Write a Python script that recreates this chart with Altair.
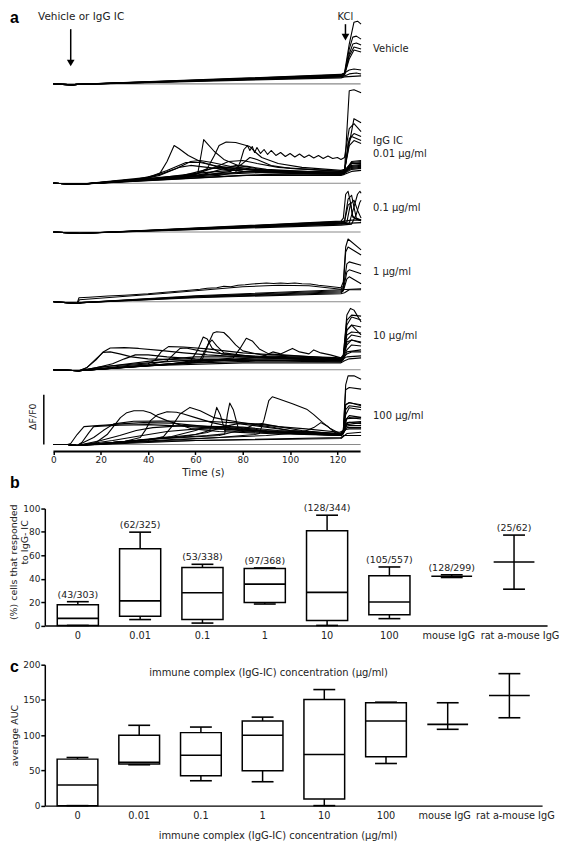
import altair as alt
import pandas as pd

# ---------------- panel a : calcium traces (time s, dF/F0 in arbitrary units) -------------
TIME_DOMAIN = [-3.65, 130]
TIME_START, TIME_END = 0, 129.8
TIME_TICKS = [0, 20, 40, 60, 80, 100, 120]

VEHICLE = [
    [(0,0),(8,-1),(10,-0.5),(121.5,9),(123,11),(125,40),(127,62),(128.5,63),(130,60)],
    [(0,0),(8,-1),(10,-0.5),(121.5,8.5),(123,10),(125,35),(126.5,47),(128,48),(130,45)],
    [(0,0),(8,-1),(10,-0.5),(121.5,8),(123,10),(125,30),(126.5,40),(128,41),(130,39)],
    [(0,0),(8,-1),(10,-0.5),(121.5,7.5),(123,9),(125,28),(127,37),(130,35)],
    [(0,0),(8,-1),(10,-0.5),(121.5,7),(123,9),(125,25),(127,34),(130,32)],
    [(0,0),(8,-1),(10,-0.5),(121.5,9.5),(123,11),(125,14),(127,15),(130,14)],
    [(0,0),(8,-1),(10,-0.5),(121.5,7),(123,8),(125,10),(128,11),(130,10)],
    [(0,0),(8,-1),(10,-0.5),(121.5,6),(123,7),(130,8)],
]

IC_001 = [
    [(0,0),(11,-1),(30,2),(40,5),(45,10),(48,22),(51,38),(53,35),(57,28),(62,22),(70,16),(80,12),(100,10),(121.5,9),(123,10),(124.5,40),(126,47),(130,43)],
    [(0,0),(11,-1),(40,4),(55,7),(61,10),(62.5,30),(63.5,44),(65,40),(68,32),(72,24),(78,18),(90,13),(121.5,11),(123,12),(125,93),(127,94),(130,91)],
    [(0,0),(11,-1),(45,5),(60,9),(65,15),(68,28),(70,38),(73,41.5),(77,41),(80,39),(83,37),(85,32),(88,26),(95,20),(105,16),(121.5,13),(123,14),(125,40),(127,65),(130,61)],
    [(0,0),(11,-1),(50,5),(70,8),(77,11),(79,22),(80.5,34),(82,38),(83,33),(84,37),(85,31),(86,36),(87.5,30),(89,34),(90.5,29),(92,33),(94,28),(96,31),(98,27),(100,30),(102,26.5),(104,29.5),(106,26),(108,28.5),(110,25.5),(112,28),(114,25),(116,27.5),(118,25),(120,26),(121.5,24),(123,26),(125,55),(127,60),(130,52)],
    [(0,0),(11,-1),(35,3),(45,8),(52,15),(58,22),(62,23),(67,21),(75,17),(85,14),(100,12),(121.5,11),(123,12),(125,45),(127,50),(130,47)],
    [(0,0),(11,-1),(45,4),(60,9),(68,16),(74,22),(80,23),(86,20),(95,16),(121.5,12),(123,13),(125,38),(127,43),(130,40)],
    [(0,0),(11,-1),(40,6),(48,13),(56,21),(62,21),(70,17),(85,13),(121.5,10),(123,11),(126,20),(130,20)],
    [(0,0),(11,-1),(55,6),(65,10),(72,15),(77,18),(82,17),(90,14),(121.5,10),(123,11),(126,18),(130,19)],
    [(0,0),(11,-1),(40,4),(60,10),(80,14),(100,12),(121.5,10),(123,11),(126,22),(130,23)],
    [(0,0),(11,-1),(50,5),(70,10),(90,12),(121.5,11),(123,12),(126,16),(130,17)],
    [(0,0),(11,-1),(30,3),(60,8),(90,11),(121.5,9),(123,10),(126,14),(130,15)],
    [(0,0),(11,-1),(40,3),(80,8),(121.5,8),(123,9),(126,12),(130,13)],
    [(0,0),(11,-1),(50,4),(90,9),(121.5,9.5),(123,10),(126,20),(130,21)],
    [(0,0),(11,-1),(60,7),(75,12),(80,20),(83,26),(86,24),(92,18),(100,15),(121.5,12),(123,13),(126,21),(130,22)],
    [(0,0),(11,-1),(55,8),(65,14),(70,16),(76,15),(90,12),(121.5,10),(123,11),(126,15),(130,16)],
    [(0,0),(11,-1),(35,4),(45,9),(53,16),(58,18),(65,16),(80,12),(121.5,10),(123,11),(126,17),(130,18)],
]

IC_01 = [
    [(0,0),(11,-1.3),(15,-1),(121.5,11),(122.5,14),(123.5,38),(124.5,41),(125.5,30),(126.5,16),(128,13),(130,12)],
    [(0,0),(11,-1.3),(15,-1),(121.5,10),(123,11),(124.5,33),(126,37),(127,25),(128,14),(130,12)],
    [(0,0),(11,-1.3),(15,-1),(121.5,9),(124,10),(125.5,28),(127,32),(128.5,22),(130,14)],
    [(0,0),(11,-1.3),(15,-1),(121.5,8),(125,9),(127,25),(128.5,38),(129.5,41),(130,39)],
    [(0,0),(11,-1.3),(15,-1),(121.5,7),(126,8),(128,18),(129.5,30),(130,32)],
    [(0,0),(11,-1.3),(15,-1),(121.5,10.5),(123,11),(126,12),(130,12)],
    [(0,0),(11,-1.3),(15,-1),(121.5,8.5),(130,9.5)],
    [(0,0),(11,-1.3),(15,-1),(121.5,9.5),(123,10.5),(124.5,27),(125.5,29),(126.5,15),(130,11)],
]

IC_1 = [
    [(0,0),(10,-1.7),(10.8,4),(15,4.5),(23,5.7),(30,6.5),(40,8),(46,9.3),(55,11),(62,12.5),(65,13.5),(69,14),(72,15.5),(75,15),(78,16.5),(81,17),(84,17.8),(87,18.3),(90,18.8),(93,18.2),(96,18.8),(99,18.3),(102,18.8),(105,18),(108.5,17.7),(112,16.5),(116,15.5),(121.5,14),(122.5,20),(123.5,55),(124.5,63),(130,52)],
    [(0,0),(10,-1.7),(11,2),(25,4.5),(45,8),(65,12),(80,15),(95,16.5),(108,16),(121.5,12.5),(122.5,16),(123.5,50),(124.5,55),(130,47)],
    [(0,0),(10,-1.7),(12,-1),(60,5.5),(121.5,11),(122.5,14),(124,38),(125,40),(130,36.7)],
    [(0,0),(10,-1.7),(12,-1),(60,5),(121.5,10),(122.5,12),(124,30),(125,32),(130,28)],
    [(0,0),(10,-1.7),(12,-1),(60,4.5),(121.5,9),(122.5,11),(124,23),(125,25),(130,18)],
    [(0,0),(10,-1.7),(12,-1),(60,6),(121.5,12),(130,13)],
    [(0,0),(10,-1.7),(12,-1),(60,4),(121.5,8),(123,9),(125,12),(130,12)],
]

IC_10 = [
    [(0,0),(10.8,-1),(14,2),(18,10),(21,18),(24,22),(30,22.3),(36,21.5),(45,19.5),(55,17),(65,15),(80,13),(100,11),(121.5,10),(122.5,14),(124,55),(125.5,61.7),(127,60),(130,48)],
    [(0,0),(10.8,-1),(14,2),(18,11),(21,17.5),(24,18),(28,16),(33,13),(40,11),(60,9.5),(121.5,9),(122.5,12),(124,45),(126,53),(130,50)],
    [(0,0),(10.8,-1),(18,2),(25,6),(30,11),(34.6,15),(40,15),(48,13),(60,11),(90,10),(121.5,9),(122.5,11),(124,30),(126,35),(130,33)],
    [(0,0),(10.8,-1),(30,4),(40,6),(43,10),(45.5,18),(48.6,23.3),(55,23),(65,21),(80,17),(100,14),(121.5,12),(122.5,15),(124,50),(126,55),(130,54)],
    [(0,0),(10.8,-1),(40,5),(48,9),(51,16),(53.5,21.5),(56,22),(62,19),(75,15),(121.5,10),(122.5,12),(124,25),(126,30),(130,28)],
    [(0,0),(10.8,-1),(50,6),(58,9),(61,20),(63.3,33),(65,31),(67,22),(71,16),(90,12),(121.5,10),(122.5,12),(124,40),(126,45),(130,43)],
    [(0,0),(10.8,-1),(55,7),(62,10),(65,24),(67.5,37),(69,38.3),(72,37.5),(74,33),(77,25),(80,19),(90,14),(121.5,11),(122.5,13),(124,20),(126,25),(130,24)],
    [(0,0),(10.8,-1),(58,7),(63,11),(65.5,26),(67,30),(69,24),(72,17),(85,13),(121.5,10),(122.5,12),(124,16),(126,18),(130,18)],
    [(0,0),(10.8,-1),(65,9),(76,12),(79,22),(81.5,31.7),(84,29),(87,21),(91,16),(121.5,11),(122.5,13),(124,40),(126,45),(130,35)],
    [(0,0),(10.8,-1),(70,9),(88,13),(92.7,18),(96,16),(101,21.5),(104,18),(108,16),(110,20),(113,17),(117,15),(121.5,12),(122.5,14),(124,28),(126,30),(130,27)],
    [(0,0),(10.8,-1),(20,3),(40,7),(60,10),(80,11),(100,11),(121.5,9),(122.5,11),(124,13),(130,14)],
    [(0,0),(10.8,-1),(30,3),(60,7),(90,9),(121.5,8),(122.5,10),(124,18),(130,20)],
    [(0,0),(10.8,-1),(40,4),(80,7),(121.5,7),(123,9),(125,11),(130,12)],
    [(0,0),(10.8,-1),(25,4),(45,10),(60,13),(75,13),(100,12),(121.5,10.5),(122.5,13),(124,35),(126,38),(130,37)],
]

IC_100 = [
    [(0,0),(6,0),(10,-1),(40,3),(70,7),(85,10),(87,11),(89,25),(91,44),(92.5,48),(95,46),(101,41),(107,35.5),(110,30),(113.7,22.3),(117,16),(121,11),(122.5,13),(123.5,40),(125,42),(130,40)],
    [(0,0),(6,0),(10,-1),(18,2),(22.7,10),(25,17),(28.3,27),(31,32),(34,34),(38,34),(41,32),(44,28),(48,24),(53,20),(58,16),(70,13),(90,11),(121.5,9),(122.5,12),(123.5,30),(125,37),(130,35)],
    [(0,0),(6,0),(10,-1),(30,3),(36.7,7),(39,15),(41,24),(44,30),(48,33),(52,32.5),(55,30.7),(60,27),(67,22),(75,18),(90,14),(121.5,11),(122.5,14),(123.5,55),(125,57.3),(130,55.7)],
    [(0,0),(6,0),(10,-1),(40,4),(46.5,8),(50,18),(53.5,30.7),(57.7,37.3),(62,34),(67.5,27.3),(72,25),(78.7,22.3),(85,20),(92.7,17.3),(100,14),(121.5,11),(122.5,14),(123.5,60),(124.5,69),(127,69),(130,65.7)],
    [(0,0),(6,0),(10,-1),(40,5),(60,10),(66,14),(68,28),(69,37.3),(70.5,30),(72.4,14),(80,13),(100,11),(121.5,9),(122.5,11),(123.5,25),(125,29),(130,27.3)],
    [(0,0),(6,0),(10,-1),(45,6),(65,9),(72.4,10.7),(73.5,30),(74.5,41.7),(76,35),(78,17.3),(81,15),(90,13),(121.5,10),(122.5,12),(123.5,35),(125,39),(130,37.3)],
    [(0,0),(6,0),(7.3,1),(10,10),(12.9,18),(18.5,19),(22,19.5),(30,21),(38,22),(50,21.5),(65,18),(80,15),(100,12),(121.5,10),(122.5,12),(123.5,20),(125,22.3),(130,21)],
    [(0,0),(6,0),(10,-1),(17,7),(21,14),(25.5,20.7),(33.9,23.3),(45,23.5),(55,23.3),(64.7,23.3),(75,22),(85.7,20.7),(95,18),(106.7,15.7),(121,12.3),(122.5,14),(123.5,40),(125,42.3),(130,39)],
    [(0,0),(6,0),(10,-1),(12,2),(15,12),(17,18),(20,18.5),(28,19.5),(40,20),(55,18.5),(70,16),(90,13),(121.5,10),(122.5,12),(123.5,25),(125,27),(130,25.7)],
    [(0,0),(6,0),(10,-1),(20,4),(28,9),(35,14),(42,17),(55,19),(70,18),(80,17.5),(95,14),(121.5,10),(122.5,12),(123.5,18),(125,19),(130,19)],
    [(0,0),(6,0),(10,-1),(50,5),(90,9),(105,12),(110,17),(113,22),(116,18),(119,12),(121.5,10),(122.5,12),(123.5,15),(125,15.7),(130,15.7)],
    [(0,0),(6,0),(10,-1),(30,3),(50,8),(60,14),(64,17),(70,18),(78,16),(90,13),(121.5,9),(122.5,11),(124,20),(130,22)],
    [(0,0),(6,0),(10,-1),(40,5),(70,9),(80,15),(85,20),(88,21),(95,18),(105,14),(121.5,10),(122.5,12),(124,26),(130,27)],
    [(0,0),(6,0),(10,-1),(60,4),(121.5,6),(122.5,8),(124,11),(130,12.3)],
    [(0,0),(6,0),(10,-1),(40,3),(121.5,7),(122.5,9),(124,9),(130,9)],
    [(0,0),(6,0),(10,-1),(25,4),(35,8),(48,13),(62,16),(75,15),(90,12),(121.5,9),(122.5,11),(124,22),(130,23)],
    [(0,0),(6,0),(10,-1),(55,8),(65,12),(72,18),(78,21),(85,19),(100,14),(121.5,10),(122.5,12),(124,17),(130,17)],
]

ROW_KEYS = ["veh", "c001", "c01", "c1", "c10", "c100"]
ROW_LABELS = ["Vehicle", "IgG IC\n0.01 µg/ml", "0.1 µg/ml", "1 µg/ml", "10 µg/ml", "100 µg/ml"]
ROW_TRACES = [VEHICLE, IC_001, IC_01, IC_1, IC_10, IC_100]

ARROW_TIMES = [7.3, 123.4]          # application of vehicle / IgG IC, and of KCl
ARROW_TEXT = ["Vehicle or IgG IC", "KCl"]
SCALE_BAR = [0, 50]                 # dF/F0 scale bar (a.u.)

# ---------------- panels b and c : box plots -------------
CATS = ["0", "0.01", "0.1", "1", "10", "100", "mouse IgG", "rat a-mouse IgG"]

B_LOW  = [0,    5,    2,    18.3, 0,    5.8,  41.0, 31.0]
B_Q1   = [0,    7.8,  5,    19.7, 4.1,  9.2,  None, None]
B_MED  = [6,    21,   28,   35.3, 28.3, 20,   42,   54.3]
B_Q3   = [17.7, 65.7, 49.5, 48.7, 81,   42.4, None, None]
B_HIGH = [20.3, 79.8, 52.3, 49.2, 94.3, 50,   43.3, 77.3]
B_N = ["(43/303)", "(62/325)", "(53/338)", "(97/368)", "(128/344)", "(105/557)", "(128/299)", "(25/62)"]
B_YTITLE = ["(%) cells that responded", "to IgG- IC"]

C_LOW  = [0,    58,   35.3,  33.9,  0,     59.8,  108.3, 124.7]
C_Q1   = [0,    59,   42.4,  49.4,  9.4,   69.2,  None,  None]
C_MED  = [29.2, 61.5, 71.6,  99.8,  72.5,  120,   115.3, 156.2]
C_Q3   = [66,   99.8, 103.6, 120,   150.6, 146,   None,  None]
C_HIGH = [68.3, 114,  111.5, 125.6, 164.7, 146.8, 146,   187.3]
C_XTITLE = "immune complex (IgG-IC) concentration (µg/ml)"

FONT = "DejaVu Sans"
LETTER_X = -35

# ---------------- build panel a -------------
recs = []
for key, traces in zip(ROW_KEYS, ROW_TRACES):
    for j, tr in enumerate(traces):
        for i, (t, h) in enumerate(tr):
            recs.append({"group": key, "trace": f"{key}_{j}", "i": i, "t": t, "h": h})
trace_df = pd.DataFrame(recs)

ROW_H = [64, 100, 49, 70, 68.5, 74.6]
ROW_LABEL_Y = [28.7, 57, 25, 40, 35, 45.6]
A_WIDTH = 318

base_df = pd.DataFrame({"t": [TIME_START], "t2": [TIME_END], "h": [0]})


def row_chart(idx):
    key, H = ROW_KEYS[idx], ROW_H[idx]
    last = idx == len(ROW_KEYS) - 1
    if last:
        xaxis = alt.Axis(values=TIME_TICKS, offset=7, domain=False, tickSize=3, tickWidth=1.5,
                         tickColor="black", labelFontSize=9, labelPadding=1, title="Time (s)",
                         titleFontSize=10.5, titleFontWeight="normal", titlePadding=3, grid=False,
                         labelFont=FONT, titleFont=FONT, labelColor="#222", titleColor="#222")
    else:
        xaxis = None
    xs = alt.Scale(domain=TIME_DOMAIN, nice=False, zero=False)
    ys = alt.Scale(domain=[0, H], nice=False, zero=False)
    X = alt.X("t:Q", scale=xs, axis=xaxis)
    Y = alt.Y("h:Q", scale=ys, axis=None)

    baseline = alt.Chart(base_df).mark_rule(color="#8a8a8a", strokeWidth=1.1).encode(x=X, x2="t2:Q", y=Y)
    lines = alt.Chart(trace_df).transform_filter(alt.datum.group == key).mark_line(
        color="black", strokeWidth=1.1, strokeJoin="round", clip=False
    ).encode(x=X, y=Y, detail="trace:N", order="i:Q")
    lab = alt.Chart(pd.DataFrame({"label": [ROW_LABELS[idx]]})).mark_text(
        align="left", baseline="middle", fontSize=10, font=FONT, color="#222", lineBreak="\n", lineHeight=14
    ).encode(x=alt.value(A_WIDTH + 12), y=alt.value(ROW_LABEL_Y[idx]), text="label:N")
    layers = [baseline, lines, lab]

    if idx == 0:
        arr = pd.DataFrame({"t": ARROW_TIMES, "txt": ARROW_TEXT})
        a1 = arr.iloc[[0]]
        a2 = arr.iloc[[1]]
        layers += [
            alt.Chart(a1).mark_rule(color="black", strokeWidth=1.5).encode(x=X, y=alt.value(9), y2=alt.value(41)),
            alt.Chart(a1).mark_point(shape="triangle-down", filled=True, color="black", size=60, opacity=1).encode(x=X, y=alt.value(43)),
            alt.Chart(a1).mark_text(fontSize=10.5, font=FONT, color="#222", dx=10.5, baseline="top").encode(x=X, y=alt.value(-8), text="txt:N"),
            alt.Chart(a2).mark_rule(color="black", strokeWidth=1.5).encode(x=X, y=alt.value(4), y2=alt.value(15)),
            alt.Chart(a2).mark_point(shape="triangle-down", filled=True, color="black", size=60, opacity=1).encode(x=X, y=alt.value(17)),
            alt.Chart(a2).mark_text(fontSize=10, font=FONT, color="#222", baseline="top").encode(x=X, y=alt.value(-8), text="txt:N"),
            alt.Chart(pd.DataFrame({"p": ["a"]})).mark_text(
                fontSize=16, font="Liberation Sans", fontWeight="bold", align="left", baseline="top"
            ).encode(x=alt.value(LETTER_X), y=alt.value(-10), text="p:N"),
        ]
    if last:
        layers += [
            alt.Chart(base_df).mark_rule(color="black", strokeWidth=2).encode(x=X, x2="t2:Q", y=alt.value(H + 7)),
            alt.Chart(pd.DataFrame({"h": [SCALE_BAR[0]], "h2": [SCALE_BAR[1]]})).mark_rule(
                color="black", strokeWidth=1.5).encode(x=alt.value(-1), y=Y, y2="h2:Q"),
            alt.Chart(pd.DataFrame({"lab": ["ΔF/F0"]})).mark_text(
                angle=270, fontSize=9.5, font=FONT, color="#222", baseline="middle"
            ).encode(x=alt.value(-12), y=alt.value(H - 28), text="lab:N"),
        ]
    return alt.layer(*layers).properties(width=A_WIDTH, height=H)


# ---------------- panels b, c -------------
LABEL_OFFSET_EXPR = "datum.label == 'rat a-mouse IgG' ? 6 : (datum.label == 'mouse IgG' ? -3 : 0)"


def box_panel(low, q1, med, q3, high, width, height, ydom, yvals, letter, letter_y,
              counts=None, ytitle=None, ytitle_lines=None, xtitle=None, top_text=None):
    df = pd.DataFrame({"cat": CATS, "low": low, "q1": q1, "med": med, "q3": q3, "high": high})
    if counts is not None:
        df["n"] = counts
    xs = alt.Scale(paddingInner=0.34, paddingOuter=0.2)
    xkw = dict(labelAngle=0, ticks=False, labelPadding=5, domainWidth=1.5, domainColor="black",
               labelFontSize=9.8, labelFont=FONT, labelColor="#222",
               labelOffset={"expr": LABEL_OFFSET_EXPR})
    if xtitle is not None:
        xkw.update(title=xtitle, titleFontSize=10, titleFontWeight="normal", titlePadding=10,
                   titleFont=FONT, titleColor="#222", titleX=234, titleAnchor="middle")
    else:
        xkw.update(title=None)
    X = alt.X("cat:N", sort=CATS, scale=xs, axis=alt.Axis(**xkw))
    ys = alt.Scale(domain=ydom, nice=False, zero=True)
    ykw = dict(values=yvals, tickSize=4, tickWidth=1.5, domainWidth=1.5, domainColor="black",
               tickColor="black", labelFontSize=9, labelFont=FONT, labelColor="#222", labelPadding=1,
               grid=False)
    if ytitle is not None:
        ykw.update(title=ytitle, titleFontSize=9.5, titleFontWeight="normal", titlePadding=3,
                   titleFont=FONT, titleColor="#222")
    else:
        ykw.update(title=None)
    yax = alt.Axis(**ykw)
    base = alt.Chart(df)
    whisk = base.mark_rule(color="black", strokeWidth=1.5).encode(
        x=X, y=alt.Y("low:Q", scale=ys, axis=yax), y2="high:Q")
    box = base.transform_filter("isValid(datum.q1)").mark_bar(
        fill="white", stroke="black", strokeWidth=1.5).encode(x=X, y=alt.Y("q1:Q", scale=ys, axis=yax), y2="q3:Q")
    medt = base.mark_tick(color="black", thickness=1.6, size=41, opacity=1).encode(
        x=X, y=alt.Y("med:Q", scale=ys, axis=yax))
    caph = base.mark_tick(color="black", thickness=1.6, size=22, opacity=1).encode(
        x=X, y=alt.Y("high:Q", scale=ys, axis=yax))
    capl = base.mark_tick(color="black", thickness=1.6, size=22, opacity=1).encode(
        x=X, y=alt.Y("low:Q", scale=ys, axis=yax))
    layers = [whisk, box, medt, caph, capl]
    if counts is not None:
        layers.append(base.mark_text(dy=-7, fontSize=9.5, font=FONT, color="#222", baseline="middle").encode(
            x=X, y=alt.Y("high:Q", scale=ys, axis=yax), text="n:N"))
    if ytitle_lines is not None:
        for txt, xx, yy in zip(ytitle_lines, [-31, -20], [height * 0.46, height * 0.29]):
            layers.append(alt.Chart(pd.DataFrame({"tt": [txt]})).mark_text(
                angle=270, fontSize=9.5, font=FONT, color="#222", baseline="middle", align="center").encode(
                x=alt.value(xx), y=alt.value(yy), text="tt:N"))
    if top_text is not None:
        layers.append(alt.Chart(pd.DataFrame({"tt": [top_text]})).mark_text(
            fontSize=10, font=FONT, color="#222", baseline="middle").encode(
            x=alt.value(225), y=alt.value(8), text="tt:N"))
    layers.append(alt.Chart(pd.DataFrame({"p": [letter]})).mark_text(
        fontSize=16, font="Liberation Sans", fontWeight="bold", align="left", baseline="middle"
    ).encode(x=alt.value(LETTER_X), y=alt.value(letter_y), text="p:N"))
    return alt.layer(*layers).properties(width=width, height=height)


def spacer(h):
    return alt.Chart(pd.DataFrame({"z": [0]})).mark_point(opacity=0).encode(
        x=alt.value(0), y=alt.value(0)).properties(width=1, height=h)


panel_b = box_panel(B_LOW, B_Q1, B_MED, B_Q3, B_HIGH, 505, 117.5, [0, 100], [0, 20, 40, 60, 80, 100],
                    "b", -26, counts=B_N, ytitle_lines=B_YTITLE)
panel_c = box_panel(C_LOW, C_Q1, C_MED, C_Q3, C_HIGH, 500, 141.7, [0, 200], [0, 50, 100, 150, 200],
                    "c", 2, ytitle="average AUC", xtitle=C_XTITLE, top_text=C_XTITLE)

chart = alt.vconcat(
    *[row_chart(i) for i in range(len(ROW_KEYS))],
    spacer(64),
    panel_b,
    spacer(38.5),
    panel_c,
    spacing=0, bounds="flush",
).properties(padding=0).configure(font=FONT).configure_view(stroke=None)

chart.save("out.html", embed_options={"renderer": "svg", "actions": False})
